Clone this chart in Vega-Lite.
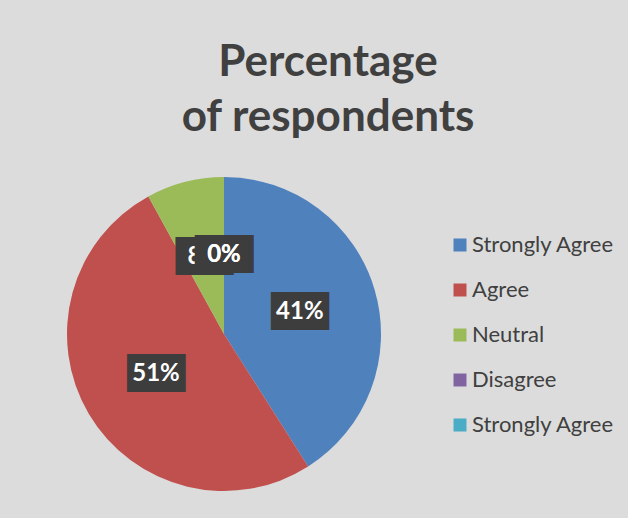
{
  "$schema": "https://vega.github.io/schema/vega-lite/v6.json",
  "width": 314,
  "height": 314,
  "autosize": {"type": "none"},
  "padding": {"left": 67, "top": 177, "right": 247, "bottom": 27},
  "background": "#dcdcdc",
  "config": {"view": {"stroke": null}},
  "title": {
    "text": ["Percentage", "of respondents"],
    "fontSize": 44,
    "font": "Lato",
    "fontWeight": "bold",
    "color": "#404040",
    "lineHeight": 55,
    "anchor": "middle",
    "dx": 104,
    "offset": 37
  },
  "data": {
    "values": [
      {"response": "Strongly Agree", "share": 0.41, "n": 1},
      {"response": "Agree", "share": 0.51, "n": 2},
      {"response": "Neutral", "share": 0.08, "n": 3},
      {"response": "Disagree", "share": 0, "n": 4},
      {"response": "Strongly Agree ", "share": 0, "n": 5}
    ]
  },
  "encoding": {
    "theta": {"field": "share", "type": "quantitative", "stack": true},
    "order": {"field": "n", "type": "quantitative"},
    "color": {
      "field": "response",
      "type": "nominal",
      "scale": {
        "domain": ["Strongly Agree", "Agree", "Neutral", "Disagree", "Strongly Agree "],
        "range": ["#4f81bd", "#c0504d", "#9bbb59", "#8064a2", "#4bacc6"]
      },
      "legend": {
        "orient": "none",
        "legendX": 382,
        "legendY": 57,
        "title": null,
        "symbolType": "square",
        "symbolSize": 169,
        "symbolStrokeWidth": 0,
        "labelFontSize": 22,
        "labelFont": "Lato",
        "labelColor": "#404040",
        "rowPadding": 23,
        "labelOffset": 1,
        "padding": 0
      }
    }
  },
  "layer": [
    {"mark": {"type": "arc", "outerRadius": 157}},
    {
      "transform": [{"filter": "datum.n <= 3"}],
      "mark": {"type": "text", "text": "███", "font": "DejaVu Sans Mono", "fontSize": 32, "radius": 79, "baseline": "middle", "align": "center"},
      "encoding": {"color": {"value": "#3d3d3d"}}
    },
    {
      "transform": [{"filter": "datum.n <= 3"}],
      "mark": {"type": "text", "font": "Lato", "fontWeight": "bold", "fontSize": 24, "radius": 79, "baseline": "middle", "align": "center"},
      "encoding": {"color": {"value": "#ffffff"}, "text": {"field": "share", "type": "quantitative", "format": ".0%"}}
    },
    {
      "transform": [{"filter": "datum.n > 3"}],
      "mark": {"type": "text", "text": "███", "font": "DejaVu Sans Mono", "fontSize": 32, "radius": 79, "baseline": "middle", "align": "center"},
      "encoding": {"color": {"value": "#3d3d3d"}}
    },
    {
      "transform": [{"filter": "datum.n > 3"}],
      "mark": {"type": "text", "font": "Lato", "fontWeight": "bold", "fontSize": 24, "radius": 79, "baseline": "middle", "align": "center"},
      "encoding": {"color": {"value": "#ffffff"}, "text": {"field": "share", "type": "quantitative", "format": ".0%"}}
    }
  ]
}
